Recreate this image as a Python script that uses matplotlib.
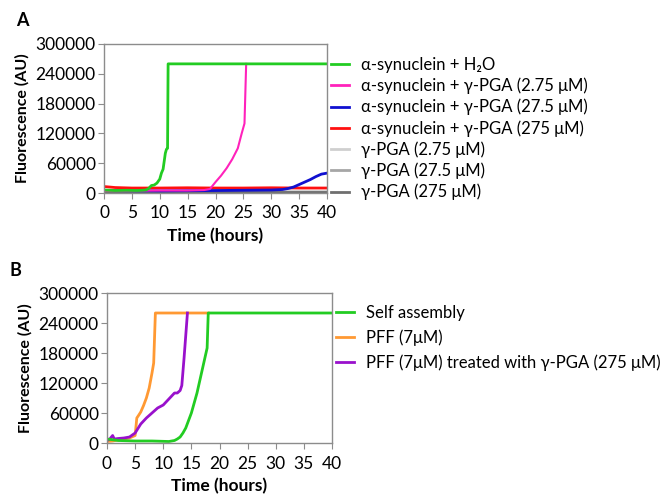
import matplotlib
matplotlib.use("Agg")
import matplotlib.pyplot as plt

plt.rcParams["font.family"] = ["Lato", "DejaVu Sans"]

# ---- panel A data (hours, AU) ----
a_h2o_t = [0, 2, 4, 6, 7.5, 8, 8.5, 9, 9.5, 10, 10.3, 10.6, 11, 11.2, 11.4, 11.5, 15, 25, 40]
a_h2o_y = [6000, 5000, 5500, 5000, 6000, 9000, 15000, 16000, 20000, 28000, 40000, 48000, 80000, 88000, 90000, 260000, 260000, 260000, 260000]

a_275l_t = [0, 5, 10, 15, 18, 19, 20, 21, 22, 23, 24, 24.7, 25.2, 25.5]
a_275l_y = [4000, 4500, 5000, 5000, 6000, 8000, 22000, 35000, 50000, 68000, 90000, 120000, 140000, 260000]

a_27l_t = [0, 10, 20, 30, 32, 33, 34, 35, 36, 37, 38, 39, 40]
a_27l_y = [5000, 4000, 5000, 6000, 7000, 9000, 12000, 17000, 22000, 27000, 33000, 38000, 40000]

a_275h_t = [0, 1, 2, 5, 10, 15, 20, 25, 30, 35, 40]
a_275h_y = [13000, 12000, 11000, 10000, 10000, 10500, 10000, 10000, 10500, 10000, 10000]

a_pga1_t = [0, 10, 20, 30, 40]
a_pga1_y = [4000, 4000, 4000, 4000, 4000]
a_pga2_t = [0, 10, 20, 30, 40]
a_pga2_y = [3000, 3000, 3000, 3000, 3000]
a_pga3_t = [0, 10, 20, 30, 40]
a_pga3_y = [2000, 2000, 2000, 2000, 2000]

# ---- panel B data ----
b_self_t = [0, 2, 5, 8, 11, 12, 12.5, 13, 13.5, 14, 14.5, 15, 15.5, 16, 16.5, 17, 17.5, 17.8, 18, 25, 40]
b_self_y = [8000, 5000, 4000, 4000, 3000, 5000, 8000, 12000, 20000, 30000, 45000, 60000, 80000, 100000, 125000, 150000, 175000, 190000, 260000, 260000, 260000]

b_pff_t = [0, 1, 3, 4, 5, 5.3, 5.6, 6, 6.5, 7, 7.5, 8, 8.3, 8.6, 10, 15, 18]
b_pff_y = [3000, 4000, 8000, 10000, 15000, 50000, 55000, 62000, 75000, 90000, 110000, 140000, 160000, 260000, 260000, 260000, 260000]

b_trt_t = [0, 0.5, 1, 1.3, 2, 3, 4, 5, 6, 7, 8, 9, 10, 11, 12, 12.5, 13, 13.3, 13.7, 14.3]
b_trt_y = [5000, 8000, 15000, 8000, 9000, 10000, 12000, 20000, 38000, 50000, 60000, 70000, 76000, 88000, 100000, 100000, 105000, 115000, 170000, 260000]

legend_a = ["α-synuclein + H₂O",
            "α-synuclein + γ-PGA (2.75 μM)",
            "α-synuclein + γ-PGA (27.5 μM)",
            "α-synuclein + γ-PGA (275 μM)",
            "γ-PGA (2.75 μM)",
            "γ-PGA (27.5 μM)",
            "γ-PGA (275 μM)"]
legend_b = ["Self assembly", "PFF (7μM)", "PFF (7μM) treated with γ-PGA (275 μM)"]

W, H = 666, 494
fig = plt.figure(figsize=(W / 100, H / 100), dpi=100)


def box(l, t, r, b):
    return [l / W, 1 - b / H, (r - l) / W, (b - t) / H]


def style(ax):
    ax.set_xlim(0, 40)
    ax.set_ylim(0, 300000)
    ax.set_xticks(range(0, 41, 5))
    ax.set_yticks(range(0, 300001, 60000))
    for s in ax.spines.values():
        s.set_color("#8c8c8c")
        s.set_linewidth(1.0)
    ax.tick_params(labelsize=12.5, length=4, color="#8c8c8c")
    ax.tick_params(axis="x", pad=5)
    ax.tick_params(axis="y", pad=2)
    ax.set_xlabel("Time (hours)", fontsize=12.5, fontweight="bold", labelpad=5)
    ax.set_ylabel("Fluorescence (AU)", fontsize=11.5, fontweight="bold", labelpad=4)


lw = 2.0
axA = fig.add_axes(box(104, 44, 327, 193))
axA.plot(a_pga1_t, a_pga1_y, color="#cfcfcf", lw=lw)
axA.plot(a_pga2_t, a_pga2_y, color="#a6a6a6", lw=lw)
axA.plot(a_pga3_t, a_pga3_y, color="#6f6f6f", lw=lw)
axA.plot(a_275h_t, a_275h_y, color="#ff1010", lw=lw)
axA.plot(a_27l_t, a_27l_y, color="#1010d0", lw=lw)
axA.plot(a_275l_t, a_275l_y, color="#ff22bb", lw=1.5)
axA.plot(a_h2o_t, a_h2o_y, color="#22cc22", lw=lw)
style(axA)

colors_a = ["#22cc22", "#ff22bb", "#1010d0", "#ff1010", "#cfcfcf", "#a6a6a6", "#6f6f6f"]
hA = [plt.Line2D([], [], color=c, lw=2) for c in colors_a]
fig.legend(hA, legend_a, loc="upper left", bbox_to_anchor=(331 / W, 1 - 57 / H),
           frameon=False, fontsize=12, handlelength=1.1, handletextpad=0.7,
           labelspacing=0.28, borderaxespad=0, borderpad=0)

axB = fig.add_axes(box(107, 293, 332, 443))
axB.plot(b_pff_t, b_pff_y, color="#ff9933", lw=lw)
axB.plot(b_trt_t, b_trt_y, color="#9911cc", lw=lw)
axB.plot(b_self_t, b_self_y, color="#22cc22", lw=lw)
style(axB)

colors_b = ["#22cc22", "#ff9933", "#9911cc"]
hB = [plt.Line2D([], [], color=c, lw=2) for c in colors_b]
fig.legend(hB, legend_b, loc="upper left", bbox_to_anchor=(336 / W, 1 - 305 / H),
           frameon=False, fontsize=12, handlelength=1.1, handletextpad=0.7,
           labelspacing=0.5, borderaxespad=0, borderpad=0)

fig.text(22 / W, 1 - 20 / H, "A", fontsize=13, fontweight="bold", va="center", ha="center")
fig.text(15 / W, 1 - 270 / H, "B", fontsize=13, fontweight="bold", va="center", ha="center")

fig.savefig("out.png", dpi=100)
